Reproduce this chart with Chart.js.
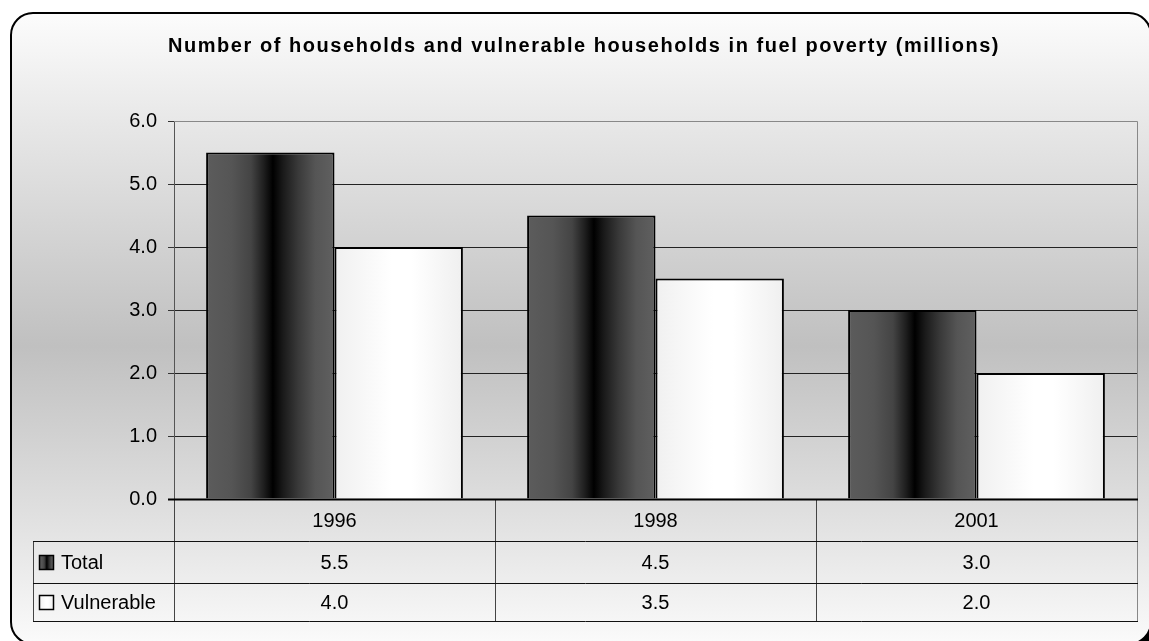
<!DOCTYPE html>
<html>
<head>
<meta charset="utf-8">
<script src="https://cdn.jsdelivr.net/npm/chart.js@4"></script>
<style>
  html, body { margin: 0; padding: 0; background: #fff; }
  #wrap { width: 1149px; height: 641px; }
</style>
</head>
<body>
<div id="wrap"><canvas id="fuelChart" width="1149" height="641"></canvas></div>
<script>
// Fuel poverty, millions of households
const years = ['1996', '1998', '2001'];
const seriesNames = ['Total', 'Vulnerable'];
const totalHouseholds = [5.5, 4.5, 3.0];
const vulnerableHouseholds = [4.0, 3.5, 2.0];
const yTicks = [0, 1, 2, 3, 4, 5, 6];

const FONT = "'Liberation Sans', Arial, sans-serif";
const CAT_PCT = 0.8;

// horizontal shading for each bar, built from the bar's own scale position
function barFill(ctx, stops) {
    const chart = ctx.chart;
    const x = chart.scales.x;
    if (!chart.chartArea || !x) return stops[0][1];
    const barW = x.width / years.length * CAT_PCT / 2;
    const center = x.getPixelForValue(ctx.dataIndex);
    const left = ctx.datasetIndex === 0 ? center - barW : center;
    const g = chart.ctx.createLinearGradient(left, 0, left + barW, 0);
    stops.forEach(s => g.addColorStop(s[0], s[1]));
    return g;
}

const darkStops = [[0, '#5c5c5c'], [0.2, '#555'], [0.35, '#444'], [0.45, '#1e1e1e'], [0.52, '#000'],
    [0.6, '#1a1a1a'], [0.72, '#3a3a3a'], [0.85, '#555'], [1, '#606060']];
const lightStops = [[0, '#f0f0f0'], [0.45, '#ffffff'], [0.6, '#ffffff'], [1, '#efefef']];

const frame = { left: 11, top: 13, right: 1151, bottom: 644, radius: 22 };

function roundRect(c, x, y, w, h, r) {
    c.beginPath();
    c.moveTo(x + r, y);
    c.lineTo(x + w - r, y);
    c.arcTo(x + w, y, x + w, y + r, r);
    c.lineTo(x + w, y + h - r);
    c.arcTo(x + w, y + h, x + w - r, y + h, r);
    c.lineTo(x + r, y + h);
    c.arcTo(x, y + h, x, y + h - r, r);
    c.lineTo(x, y + r);
    c.arcTo(x, y, x + r, y, r);
    c.closePath();
}

const backgroundPlugin = {
    id: 'backgroundFrame',
    beforeDraw(chart) {
        const c = chart.ctx;
        const w = frame.right - frame.left, h = frame.bottom - frame.top;
        c.save();
        c.fillStyle = '#fff';
        c.fillRect(0, 0, chart.width, chart.height);
        // drop shadow
        roundRect(c, frame.left + 4, frame.top + 4, w, h, frame.radius);
        c.fillStyle = '#000';
        c.fill();
        const g = c.createLinearGradient(0, frame.top, 0, 641);
        g.addColorStop(0, '#fcfcfc');
        g.addColorStop(0.17, '#e8e8e8');
        g.addColorStop(0.53, '#c0c0c0');
        g.addColorStop(0.8, '#e0e0e0');
        g.addColorStop(1, '#fafafa');
        roundRect(c, frame.left, frame.top, w, h, frame.radius);
        c.fillStyle = g;
        c.fill();
        c.lineWidth = 2;
        c.strokeStyle = '#000';
        c.stroke();

        // title
        c.fillStyle = '#000';
        c.font = 'bold 20px ' + FONT;
        c.letterSpacing = '1.55px';
        c.textAlign = 'center';
        c.textBaseline = 'alphabetic';
        c.fillText('Number of households and vulnerable households in fuel poverty (millions)', 584, 52);
        c.restore();
    }
};

// data table under the plot area, plus plot frame lines
const tablePlugin = {
    id: 'dataTable',
    afterDraw(chart) {
        const c = chart.ctx;
        const area = chart.chartArea;
        const x = chart.scales.x;
        const colW = x.width / years.length;
        const rows = [area.bottom, 541, 583, 621];
        const tableLeft = 33;
        c.save();

        // plot frame: grey top and right edges
        c.strokeStyle = '#888';
        c.lineWidth = 1;
        c.beginPath();
        c.moveTo(area.left, area.top + 0.5);
        c.lineTo(area.right + 0.5, area.top + 0.5);
        c.lineTo(area.right + 0.5, rows[3]);
        c.stroke();

        // column dividers
        c.strokeStyle = '#444';
        c.beginPath();
        for (let i = 0; i < years.length; i++) {
            const xp = Math.round(area.left + colW * i) + 0.5;
            c.moveTo(xp, rows[0]);
            c.lineTo(xp, rows[3]);
        }
        c.moveTo(tableLeft + 0.5, rows[1]);
        c.lineTo(tableLeft + 0.5, rows[3]);
        c.stroke();

        // row lines
        c.strokeStyle = '#111';
        c.beginPath();
        [rows[1], rows[2], rows[3]].forEach(y => {
            c.moveTo(tableLeft, y + 0.5);
            c.lineTo(area.right + 1, y + 0.5);
        });
        c.stroke();

        // category axis line
        c.strokeStyle = '#000';
        c.lineWidth = 2;
        c.beginPath();
        c.moveTo(area.left - 6, area.bottom + 0.5);
        c.lineTo(area.right + 1, area.bottom + 0.5);
        c.stroke();

        // texts
        c.fillStyle = '#000';
        c.font = '20px ' + FONT;
        c.textAlign = 'center';
        c.textBaseline = 'middle';
        const series = [totalHouseholds, vulnerableHouseholds];
        years.forEach((yr, i) => {
            const cx = x.getPixelForValue(i);
            c.fillText(yr, cx, (rows[0] + rows[1]) / 2 + 1);
            series.forEach((vals, s) => {
                c.fillText(vals[i].toFixed(1), cx, (rows[s + 1] + rows[s + 2]) / 2 + 1);
            });
        });

        // legend keys and series names
        c.textAlign = 'left';
        const keyStops = [darkStops, lightStops];
        seriesNames.forEach((name, s) => {
            const mid = (rows[s + 1] + rows[s + 2]) / 2;
            const kx = 39, ky = Math.round(mid - 7);
            const g = c.createLinearGradient(kx, 0, kx + 15, 0);
            keyStops[s].forEach(st => g.addColorStop(st[0], st[1]));
            c.fillStyle = g;
            c.fillRect(kx, ky, 15, 15);
            c.strokeStyle = '#000';
            c.lineWidth = 1.5;
            c.strokeRect(kx + 0.5, ky + 0.5, 14, 14);
            c.fillStyle = '#000';
            c.fillText(name, 61, mid + 1);
        });
        c.restore();
    }
};

new Chart(document.getElementById('fuelChart'), {
    type: 'bar',
    data: {
        labels: years,
        datasets: [
            {
                label: seriesNames[0],
                data: totalHouseholds,
                backgroundColor: ctx => barFill(ctx, darkStops),
                borderColor: '#000',
                borderWidth: 2
            },
            {
                label: seriesNames[1],
                data: vulnerableHouseholds,
                backgroundColor: ctx => barFill(ctx, lightStops),
                borderColor: '#000',
                borderWidth: 2
            }
        ]
    },
    options: {
        responsive: false,
        animation: false,
        layout: { padding: { left: 0, top: 121, right: 12, bottom: 142 } },
        datasets: { bar: { categoryPercentage: CAT_PCT, barPercentage: 1.0 } },
        plugins: {
            legend: { display: false },
            title: { display: false },
            tooltip: { enabled: false }
        },
        scales: {
            x: { display: false },
            y: {
                min: yTicks[0],
                max: yTicks[yTicks.length - 1],
                afterFit: s => { s.width = 174; },
                afterBuildTicks: s => { s.ticks = yTicks.map(v => ({ value: v })); },
                ticks: {
                    color: '#000',
                    font: { family: FONT, size: 20 },
                    padding: 11,
                    callback: v => v.toFixed(1)
                },
                grid: {
                    color: ctx => ctx.tick && ctx.tick.value === 6 ? '#888' : '#222',
                    tickColor: '#333',
                    tickLength: 6,
                    lineWidth: 1
                },
                border: { color: '#555', width: 1 }
            }
        }
    },
    plugins: [backgroundPlugin, tablePlugin]
});
</script>
</body>
</html>
